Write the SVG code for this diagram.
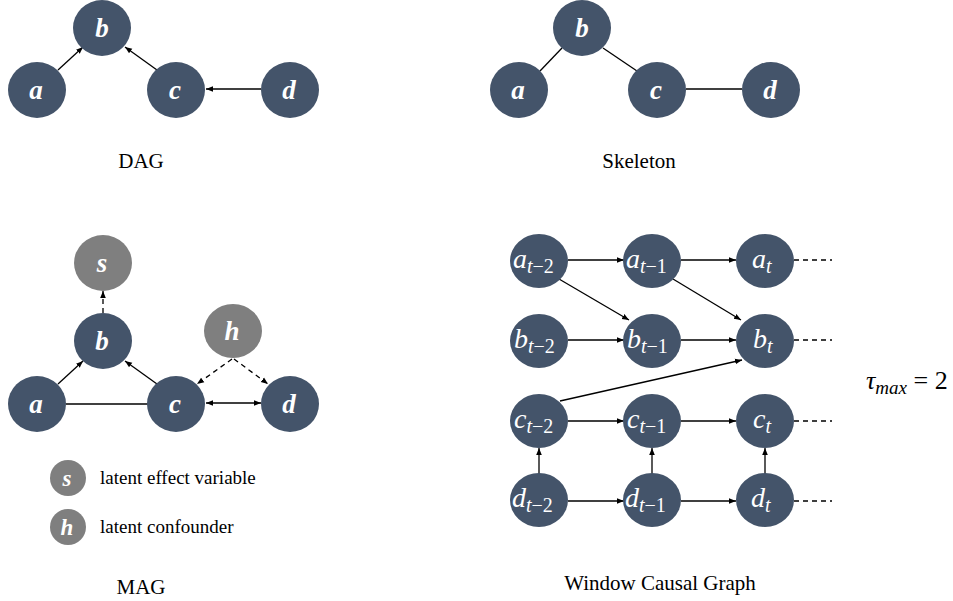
<svg xmlns="http://www.w3.org/2000/svg" width="953" height="601" viewBox="0 0 953 601">
<defs>
<marker id="ah" viewBox="0 0 10 10" refX="10" refY="5" markerWidth="7" markerHeight="7" orient="auto-start-reverse" markerUnits="userSpaceOnUse">
<path d="M0,1 L10,5 L0,9 z" fill="#000"/>
</marker>
<style>
.n{fill:#44546a}
.g{fill:#7f7f7f}
.lt{font-family:"Liberation Serif","DejaVu Serif",serif;font-style:italic;font-weight:bold;font-size:27px;fill:#fff;text-anchor:middle}
.wt{font-family:"Liberation Serif","DejaVu Serif",serif;font-style:italic;font-size:28px;fill:#fff}
.sub{font-size:20px}
.up{font-style:normal}
.cap{font-family:"Liberation Serif","Times New Roman",serif;font-size:21px;fill:#000;text-anchor:middle}
.leg{font-family:"Liberation Serif","Times New Roman",serif;font-size:19px;fill:#000}
.e{stroke:#000;stroke-width:1.3;fill:none}
.ea{stroke:#000;stroke-width:1.3;fill:none;marker-end:url(#ah)}
.d{stroke:#000;stroke-width:1.3;fill:none;stroke-dasharray:5,4}
</style>
</defs>
<rect width="953" height="601" fill="#fff"/>

<!-- DAG -->
<g id="connectors-dag">
<line class="ea" x1="58" y1="70" x2="83" y2="47"/>
<line class="ea" x1="157" y1="70" x2="125" y2="47"/>
<line class="ea" x1="261" y1="89" x2="206" y2="89"/>
</g>
<g id="dag-b"><ellipse class="n" cx="102" cy="28" rx="29" ry="28"/><text class="lt" x="102" y="37">b</text></g>
<g id="dag-a"><ellipse class="n" cx="37" cy="90" rx="29" ry="28"/><text class="lt" x="36" y="99">a</text></g>
<g id="dag-c"><ellipse class="n" cx="176" cy="90" rx="29" ry="28"/><text class="lt" x="175" y="99">c</text></g>
<g id="dag-d"><ellipse class="n" cx="290" cy="90" rx="29" ry="28"/><text class="lt" x="289" y="99">d</text></g>
<text class="cap" x="141" y="168">DAG</text>

<!-- Skeleton -->
<g id="connectors-skel">
<line class="e" x1="540" y1="71" x2="562" y2="48"/>
<line class="e" x1="603" y1="48" x2="637" y2="71"/>
<line class="e" x1="686" y1="89" x2="742" y2="89"/>
</g>
<g id="sk-b"><ellipse class="n" cx="582" cy="28" rx="29" ry="28"/><text class="lt" x="582" y="37">b</text></g>
<g id="sk-a"><ellipse class="n" cx="519" cy="90" rx="29" ry="28"/><text class="lt" x="518" y="99">a</text></g>
<g id="sk-c"><ellipse class="n" cx="657" cy="90" rx="29" ry="28"/><text class="lt" x="656" y="99">c</text></g>
<g id="sk-d"><ellipse class="n" cx="771" cy="90" rx="29" ry="28"/><text class="lt" x="770" y="99">d</text></g>
<text class="cap" x="639" y="168">Skeleton</text>

<!-- MAG -->
<g id="connectors-mag">
<line class="d" x1="103" y1="313" x2="103" y2="291" marker-end="url(#ah)"/>
<line class="ea" x1="58" y1="384" x2="83" y2="361"/>
<line class="ea" x1="157" y1="384" x2="125" y2="361"/>
<line class="e" x1="66" y1="404" x2="148" y2="404"/>
<line class="ea" x1="206" y1="403" x2="261" y2="403" marker-start="url(#ah)"/>
<line class="d" x1="232" y1="359" x2="197" y2="384" marker-end="url(#ah)"/>
<line class="d" x1="234" y1="359" x2="268" y2="384" marker-end="url(#ah)"/>
</g>
<g id="mag-s"><ellipse class="g" cx="103" cy="263" rx="29" ry="28"/><text class="lt" x="102" y="272">s</text></g>
<g id="mag-b"><ellipse class="n" cx="103" cy="341" rx="29" ry="28"/><text class="lt" x="102" y="350">b</text></g>
<g id="mag-h"><ellipse class="g" cx="233" cy="331" rx="29" ry="27"/><text class="lt" x="232" y="340">h</text></g>
<g id="mag-a"><ellipse class="n" cx="37" cy="404" rx="29" ry="28"/><text class="lt" x="36" y="413">a</text></g>
<g id="mag-c"><ellipse class="n" cx="176" cy="404" rx="29" ry="28"/><text class="lt" x="175" y="413">c</text></g>
<g id="mag-d"><ellipse class="n" cx="290" cy="404" rx="29" ry="28"/><text class="lt" x="289" y="413">d</text></g>
<g id="legend-s"><circle class="g" cx="68" cy="478" r="18"/><text class="lt" x="67" y="486" style="font-size:23px">s</text><text class="leg" x="100" y="484">latent effect variable</text></g>
<g id="legend-h"><circle class="g" cx="68" cy="527" r="18"/><text class="lt" x="67" y="535" style="font-size:23px">h</text><text class="leg" x="100" y="533">latent confounder</text></g>
<text class="cap" x="141" y="594">MAG</text>

<!-- Window causal graph -->
<g id="connectors-window">
<line class="ea" x1="568" y1="260" x2="624" y2="260"/>
<line class="ea" x1="681" y1="260" x2="736" y2="260"/>
<line class="ea" x1="568" y1="340" x2="624" y2="340"/>
<line class="ea" x1="681" y1="340" x2="736" y2="340"/>
<line class="ea" x1="568" y1="421" x2="624" y2="421"/>
<line class="ea" x1="681" y1="421" x2="736" y2="421"/>
<line class="ea" x1="568" y1="501" x2="624" y2="501"/>
<line class="ea" x1="681" y1="501" x2="736" y2="501"/>
<line class="ea" x1="559" y1="279" x2="629" y2="320"/>
<line class="ea" x1="673" y1="279" x2="741" y2="320"/>
<line class="ea" x1="560" y1="401" x2="742" y2="360"/>
<line class="ea" x1="539" y1="474" x2="539" y2="448"/>
<line class="ea" x1="652" y1="474" x2="652" y2="448"/>
<line class="ea" x1="765" y1="474" x2="765" y2="448"/>
<line class="d" x1="794" y1="260" x2="832" y2="260"/>
<line class="d" x1="794" y1="340" x2="832" y2="340"/>
<line class="d" x1="794" y1="421" x2="832" y2="421"/>
<line class="d" x1="794" y1="501" x2="832" y2="501"/>
</g>
<g id="w-a2"><ellipse class="n" cx="539" cy="261" rx="29" ry="27"/><text class="wt" x="513" y="268">a<tspan class="sub" dy="5">t<tspan class="up">−2</tspan></tspan></text></g>
<g id="w-a1"><ellipse class="n" cx="652" cy="261" rx="29" ry="27"/><text class="wt" x="626" y="268">a<tspan class="sub" dy="5">t<tspan class="up">−1</tspan></tspan></text></g>
<g id="w-a0"><ellipse class="n" cx="765" cy="261" rx="29" ry="27"/><text class="wt" x="752" y="268">a<tspan class="sub" dy="5">t</tspan></text></g>
<g id="w-b2"><ellipse class="n" cx="539" cy="341" rx="29" ry="27"/><text class="wt" x="514" y="348">b<tspan class="sub" dy="5">t<tspan class="up">−2</tspan></tspan></text></g>
<g id="w-b1"><ellipse class="n" cx="652" cy="341" rx="29" ry="27"/><text class="wt" x="627" y="348">b<tspan class="sub" dy="5">t<tspan class="up">−1</tspan></tspan></text></g>
<g id="w-b0"><ellipse class="n" cx="765" cy="341" rx="29" ry="27"/><text class="wt" x="753" y="348">b<tspan class="sub" dy="5">t</tspan></text></g>
<g id="w-c2"><ellipse class="n" cx="539" cy="421" rx="29" ry="27"/><text class="wt" x="514" y="428">c<tspan class="sub" dy="5">t<tspan class="up">−2</tspan></tspan></text></g>
<g id="w-c1"><ellipse class="n" cx="652" cy="421" rx="29" ry="27"/><text class="wt" x="627" y="428">c<tspan class="sub" dy="5">t<tspan class="up">−1</tspan></tspan></text></g>
<g id="w-c0"><ellipse class="n" cx="765" cy="421" rx="29" ry="27"/><text class="wt" x="753" y="428">c<tspan class="sub" dy="5">t</tspan></text></g>
<g id="w-d2"><ellipse class="n" cx="539" cy="500" rx="29" ry="27"/><text class="wt" x="512" y="507">d<tspan class="sub" dy="5">t<tspan class="up">−2</tspan></tspan></text></g>
<g id="w-d1"><ellipse class="n" cx="652" cy="500" rx="29" ry="27"/><text class="wt" x="625" y="507">d<tspan class="sub" dy="5">t<tspan class="up">−1</tspan></tspan></text></g>
<g id="w-d0"><ellipse class="n" cx="765" cy="500" rx="29" ry="27"/><text class="wt" x="751" y="507">d<tspan class="sub" dy="5">t</tspan></text></g>
<text class="cap" x="660" y="590">Window Causal Graph</text>
<text x="866" y="389" style="font-family:'Liberation Serif','DejaVu Serif',serif;font-size:26px;fill:#000"><tspan font-style="italic">τ</tspan><tspan font-style="italic" font-size="19" dy="5">max</tspan><tspan dy="-5"> = 2</tspan></text>
</svg>
